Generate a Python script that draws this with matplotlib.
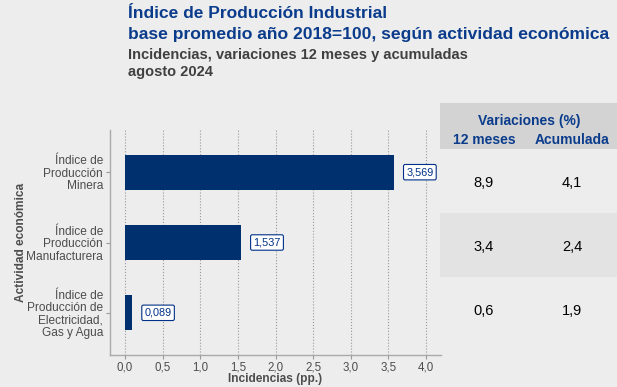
import matplotlib.pyplot as plt
import matplotlib.patches as patches

plt.rcParams['font.family'] = ['Liberation Sans', 'DejaVu Sans']

categorias = ['Índice de\nProducción\nMinera',
              'Índice de\nProducción\nManufacturera',
              'Índice de\nProducción de\nElectricidad,\nGas y Agua']
incidencias = [3.569, 1.537, 0.089]
var_12m = ['8,9', '3,4', '0,6']
var_acum = ['4,1', '2,4', '1,9']
xticks = [0.0, 0.5, 1.0, 1.5, 2.0, 2.5, 3.0, 3.5, 4.0]

W, H = 617, 387
bg = '#EDEDED'
azul = '#00306E'
azul_txt = '#003087'


def fx(px):
    return px / W


def fy(py):
    return 1 - py / H


fig = plt.figure(figsize=(W / 100, H / 100), dpi=100, facecolor=bg)
ax = fig.add_axes([fx(110), fy(355), fx(441) - fx(110), fy(130) - fy(355)])
ax.set_facecolor(bg)

pos = list(range(1, len(categorias) + 1))
ax.barh(pos, incidencias, height=0.5, color=azul, zorder=3)
for p, v in zip(pos, incidencias):
    ax.text(v + 0.35, p, f'{v:.3f}'.replace('.', ','), ha='center', va='center',
            fontsize=7.8, color=azul_txt, zorder=4,
            bbox=dict(boxstyle='round,pad=0.25,rounding_size=0.15', fc='white', ec=azul_txt, lw=0.8))

ax.set_xlim(-0.2, 4.2)
ax.set_ylim(3.6, 0.4)
ax.set_yticks(pos)
ax.set_yticklabels(categorias, fontsize=8.6, color='#4D4D4D', linespacing=1.05)
ax.set_xticks(xticks)
ax.set_xticklabels([f'{t:.1f}'.replace('.', ',') for t in xticks], fontsize=8.3, color='#4D4D4D')
ax.tick_params(axis='both', length=3, color='#999999', width=0.8, pad=2)
ax.tick_params(axis='x', pad=1.5)
ax.grid(axis='x', linestyle=':', color='#999999', linewidth=0.8, zorder=0)
for s in ['top', 'right']:
    ax.spines[s].set_visible(False)
for s in ['left', 'bottom']:
    ax.spines[s].set_color('#AAAAAA')
    ax.spines[s].set_linewidth(1.0)
ax.set_xlabel('Incidencias (pp.)', fontsize=8.6, fontweight='bold', color='#4D4D4D')
ax.set_ylabel('Actividad económica', fontsize=8.6, fontweight='bold', color='#4D4D4D')
ax.xaxis.set_label_coords(0.5, -0.08)
ax.yaxis.set_label_coords(-0.25, 0.5)

# titulos
fig.text(fx(128), fy(14), 'Índice de Producción Industrial', fontsize=12.5, fontweight='bold',
         color='#0B3C8C', va='center')
fig.text(fx(128), fy(35), 'base promedio año 2018=100, según actividad económica', fontsize=12.6,
         fontweight='bold', color='#0B3C8C', va='center')
fig.text(fx(128), fy(55), 'Incidencias, variaciones 12 meses y acumuladas', fontsize=10.5,
         fontweight='bold', color='#404040', va='center')
fig.text(fx(128), fy(72), 'agosto 2024', fontsize=10.5, fontweight='bold', color='#404040', va='center')

# tabla
fig.patches.append(patches.Rectangle((fx(440), fy(149)), fx(617) - fx(440), fy(103) - fy(149),
                                     transform=fig.transFigure, fc='#D3D3D3', ec='none'))
fig.patches.append(patches.Rectangle((fx(440), fy(277)), fx(617) - fx(440), fy(213) - fy(277),
                                     transform=fig.transFigure, fc='#E3E3E3', ec='none'))
fig.text(fx(529), fy(121), 'Variaciones (%)', fontsize=10, fontweight='bold', color='#0B3C8C',
         ha='center', va='center')
fig.text(fx(484), fy(140), '12 meses', fontsize=10, fontweight='bold', color='#0B3C8C',
         ha='center', va='center')
fig.text(fx(572), fy(140), 'Acumulada', fontsize=10, fontweight='bold', color='#0B3C8C',
         ha='center', va='center')
for i, (a, b) in enumerate(zip(var_12m, var_acum)):
    yy = 183 + 64 * i
    fig.text(fx(484), fy(yy), a, fontsize=10.5, color='black', ha='center', va='center')
    fig.text(fx(572), fy(yy), b, fontsize=10.5, color='black', ha='center', va='center')

fig.savefig('out.png', dpi=100, facecolor=bg)
